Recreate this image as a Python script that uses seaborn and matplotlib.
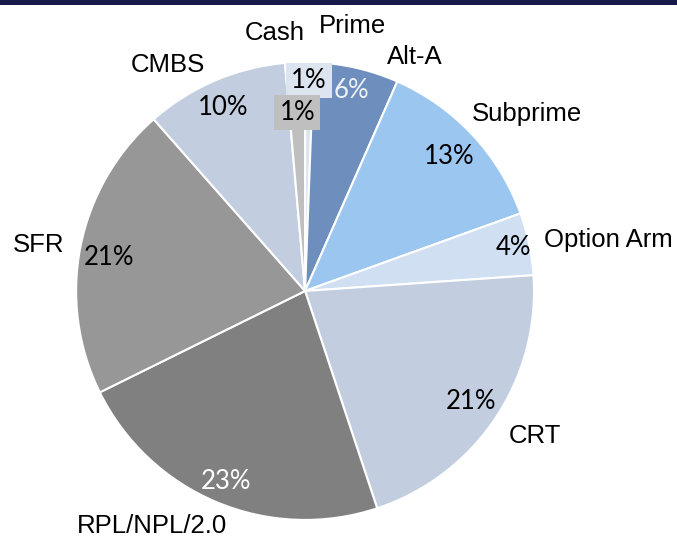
import matplotlib
matplotlib.use("Agg")
import matplotlib.pyplot as plt
import seaborn as sns
import numpy as np
from matplotlib.patches import Rectangle

# Portfolio split, clockwise from 12 o'clock
segments = ['Prime', 'Alt-A', 'Subprime', 'Option Arm', 'CRT', 'RPL/NPL/2.0', 'SFR', 'CMBS', 'Cash']
shares = [0.6, 6.0, 12.9, 4.4, 21.0, 22.8, 20.8, 10.1, 1.4]

colors = ['#dce4f0', '#6e8fbe', '#9bc6f0', '#d0e0f2', '#c2cde0',
          '#808080', '#979797', '#c2cde0', '#bfbfbf']
pct_colors = ['black', '#eef2f8', 'black', 'black', 'black',
              'white', 'black', 'black', 'black']

# label placement: radius and angular nudge (deg) from wedge middle
label_r = [1.175, 1.129, 1.240, 1.342, 1.187, 1.225, 1.179, 1.154, 1.135]
label_nudge = [-9.0, -12.2, -4.4, -2.3, 1.6, -10.5, 1.4, 8.0, 4.1]
pct_r = [0.92, 0.90, 0.86, 0.93, 0.87, 0.90, 0.87, 0.88, 0.78]
pct_nudge = [0, 0, 0, 0, 0, 0, 1.4, 0.9, 0]
boxed = ['Prime', 'Cash']

sns.set_theme(style='white')
plt.rcParams['font.family'] = ['Liberation Sans', 'DejaVu Sans']

fig = plt.figure(figsize=(6.77, 5.41), dpi=100)
ax = fig.add_axes([0, 0, 1, 1])

wedges, _ = ax.pie(shares, colors=colors, startangle=90, counterclock=False,
                   wedgeprops=dict(edgecolor='white', linewidth=1.5))

for i, w in enumerate(wedges):
    mid = (w.theta1 + w.theta2) / 2

    a = np.deg2rad(mid + label_nudge[i])
    ax.text(label_r[i] * np.cos(a), label_r[i] * np.sin(a), segments[i],
            ha='center', va='center', fontsize=18.5, color='black')

    a = np.deg2rad(mid + pct_nudge[i])
    bbox = None
    if segments[i] in boxed:
        bbox = dict(boxstyle='square,pad=0.2', fc=colors[i], ec='none')
    ax.text(pct_r[i] * np.cos(a), pct_r[i] * np.sin(a), f"{round(shares[i])}%",
            ha='center', va='center', fontsize=18.5, color=pct_colors[i],
            family=['Lato', 'DejaVu Sans'], bbox=bbox)

ax.set_xlim(-1.332, 1.624)
ax.set_ylim(-1.092, 1.271)
ax.set_aspect('equal')
ax.axis('off')

# navy rule at the top edge
fig.add_artist(Rectangle((0, 1 - 5 / 541), 1, 5 / 541, transform=fig.transFigure,
                         color='#161b4c', lw=0))

plt.savefig('out.png', dpi=100)
